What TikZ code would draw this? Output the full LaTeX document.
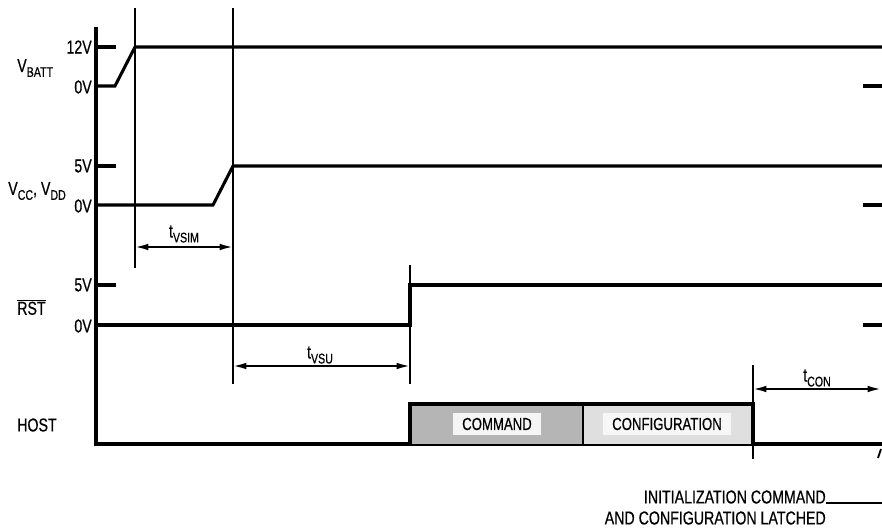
\documentclass[tikz,border=0pt]{standalone}
\usepackage{fontspec}
\setmainfont{Liberation Sans}[FakeStretch=0.76,FakeBold=0.5]
\usetikzlibrary{arrows.meta}
\newcommand\subtxt[1]{\raisebox{-0.5ex}{\fontsize{10.5}{10.5}\selectfont #1}}
\begin{document}
\begin{tikzpicture}[x=0.75pt,y=-0.75pt,
  sig/.style={line width=2.3pt},
  guide/.style={line width=0.9pt},
  dimarrow/.style={line width=1.5pt,{Latex[length=10pt,width=5pt]}-{Latex[length=10pt,width=5pt]}},
  lbl/.style={font=\fontsize{14}{14}\selectfont, inner sep=0pt},
  vlbl/.style={lbl, anchor=east},
  boxtxt/.style={font=\fontsize{13}{13}\selectfont, inner xsep=7pt, inner ysep=4pt}]
\useasboundingbox (0,0) rectangle (882,528);

% axis and host baseline
\coordinate (axtop) at (96,27);
\coordinate (axbot) at (96,444);
\coordinate (hostend) at (882,444);
\draw[sig] (axtop) -- (axbot) -- (hostend);

% left tick marks
\foreach \yy/\nm in {47/t1,166/t2,285/t3}{
  \coordinate (\nm a) at (96,\yy); \coordinate (\nm b) at (116,\yy);
  \draw[sig] (\nm a) -- (\nm b);}
% right tick marks
\foreach \yy/\nm in {86/r1,205/r2,325/r3}{
  \coordinate (\nm a) at (863,\yy); \coordinate (\nm b) at (882,\yy);
  \draw[sig] (\nm a) -- (\nm b);}

% VBATT signal
\coordinate (b0) at (96,86); \coordinate (b1) at (115,86);
\coordinate (b2) at (135,47); \coordinate (b3) at (882,47);
\draw[sig] (b0) -- (b1) -- (b2) -- (b3);

% VCC signal
\coordinate (c0) at (96,205); \coordinate (c1) at (213,205);
\coordinate (c2) at (233,166); \coordinate (c3) at (882,166);
\draw[sig] (c0) -- (c1) -- (c2) -- (c3);

% RST signal
\coordinate (r0) at (96,325); \coordinate (r1) at (410,325);
\coordinate (r2) at (410,285); \coordinate (r3) at (882,285);
\draw[sig] (r0) -- (r1) -- (r2) -- (r3);

% guide lines
\coordinate (g1a) at (135,8); \coordinate (g1b) at (135,268);
\coordinate (g2a) at (233,8); \coordinate (g2b) at (233,384);
\coordinate (g3a) at (410,265); \coordinate (g3b) at (410,384);
\coordinate (g4a) at (753,365); \coordinate (g4b) at (753,459);
\draw[guide] (g1a) -- (g1b);
\draw[guide] (g2a) -- (g2b);
\draw[guide] (g3a) -- (g3b);
\draw[guide] (g4a) -- (g4b);

% dimension arrows
\coordinate (d1a) at (135,247); \coordinate (d1b) at (233,247);
\coordinate (d2a) at (233,366); \coordinate (d2b) at (410,366);
\coordinate (d3a) at (753,389); \coordinate (d3b) at (881,389);
\draw[dimarrow] (d1a) -- (d1b);
\draw[dimarrow] (d2a) -- (d2b);
\draw[dimarrow] (d3a) -- (d3b);
\node[lbl] (tvsim) at (184,234) {t\subtxt{VSIM}};
\node[lbl] (tvsu) at (320,355) {t\subtxt{VSU}};
\node[lbl] (tcon) at (817,378) {t\subtxt{CON}};

% host boxes
\fill[gray!58] (410,404) rectangle (583,444);
\fill[gray!25] (583,404) rectangle (753,444);
\coordinate (h0) at (410,444); \coordinate (h1) at (410,404);
\coordinate (h2) at (753,404); \coordinate (h3) at (753,444);
\coordinate (hm1) at (583,404); \coordinate (hm2) at (583,444);
\draw[sig] (h0) -- (h1) -- (h2) -- (h3);
\draw[line width=1.4pt] (hm1) -- (hm2);
\node[boxtxt, fill=gray!8] (cmd) at (497,424) {COMMAND};
\node[boxtxt, fill=gray!6] (cfg) at (667,424) {CONFIGURATION};

% voltage labels
\node[vlbl] (v12) at (92,47) {12V};
\node[vlbl] (v0a) at (92,87) {0V};
\node[vlbl] (v5a) at (92,166) {5V};
\node[vlbl] (v0b) at (92,206) {0V};
\node[vlbl] (v5b) at (92,285) {5V};
\node[vlbl] (v0c) at (92,326) {0V};

% signal names
\node[lbl, anchor=west] (vbatt) at (17,68) {V\subtxt{BATT}};
\node[lbl, anchor=west] (vcc) at (8,191) {V\subtxt{CC}, V\subtxt{DD}};
\node[lbl, anchor=west] (rst) at (17,307) {$\overline{\mbox{RST}}$};
\node[lbl, anchor=west] (host) at (17,425) {HOST};

% small mark at right
\coordinate (m1) at (881,449); \coordinate (m2) at (878,458);
\draw[line width=1.4pt] (m1) -- (m2);

% bottom note
\node[lbl, anchor=east] (note1) at (826,497) {INITIALIZATION COMMAND};
\node[lbl, anchor=east] (note2) at (826,518) {AND CONFIGURATION LATCHED};
\coordinate (u1) at (826,503); \coordinate (u2) at (882,503);
\draw[line width=1pt] (u1) -- (u2);
\end{tikzpicture}
\end{document}
